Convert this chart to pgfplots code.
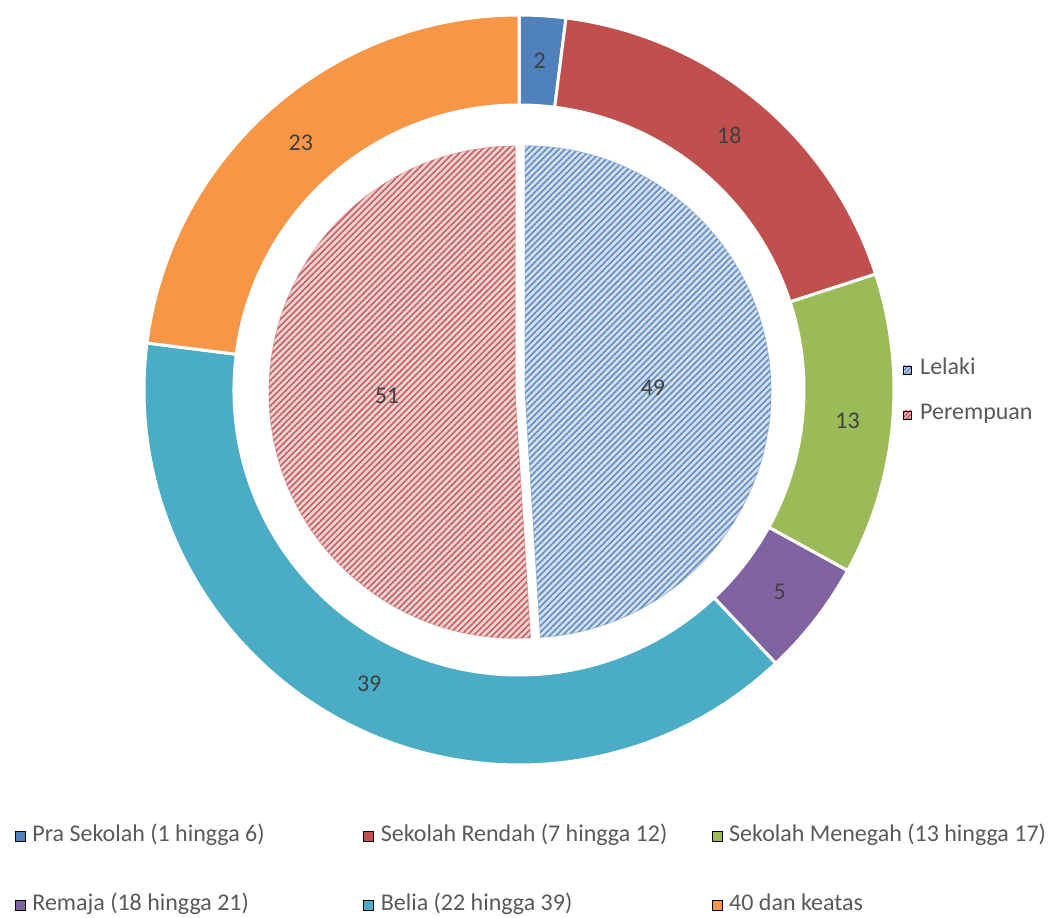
\documentclass[border=0pt]{standalone}
\usepackage{pgfplots}
\pgfplotsset{compat=1.18}
\usepackage{pgfplotstable}
\usetikzlibrary{patterns.meta}
\usepackage{fontspec}
\setmainfont{Carlito}
\definecolor{cA}{HTML}{4F81BD}
\definecolor{cB}{HTML}{C0504D}
\definecolor{cC}{HTML}{9BBB59}
\definecolor{cD}{HTML}{8064A2}
\definecolor{cE}{HTML}{4BACC6}
\definecolor{cF}{HTML}{F79646}
\definecolor{lbl}{HTML}{404040}
\definecolor{leg}{HTML}{595959}
\newcommand\lblfont{\fontsize{24}{28}\selectfont}

\pgfplotstableread{
value col
2 cA
18 cB
13 cC
5 cD
39 cE
23 cF
}\ringdata

\pgfplotstableread{
value col
49 cA
51 cB
}\piedata

\pgfplotsset{
  base/.style={
    x=1pt, y=1pt, xmin=0, xmax=1053, ymin=0, ymax=918,
    hide axis, clip=false, anchor=south west, at={(0,0)},
    legend cell align=left,
  },
}

\begin{document}
\begin{tikzpicture}
% ---------- outer ring + bottom legend ----------
\begin{axis}[base,
  legend columns=3,
  legend image code/.code={\fill[#1] (0pt,-5pt) rectangle (10pt,5pt);},
  legend style={at={(15/1053,92/918)}, anchor=north west, draw=none, fill=none,
    inner sep=0pt, outer sep=0pt, row sep=49pt,
    nodes={inner sep=0pt, text=leg, font=\lblfont, text height=15pt, text depth=5pt},
    /tikz/every odd column/.append style={column sep=7pt}},
]
\def\cx{519}\def\cy{528}\def\Ro{375}\def\Ri{285}
\def\acur{90}
\pgfplotsforeachungrouped \i in {0,...,5}{%
  \pgfplotstablegetelem{\i}{value}\of\ringdata \let\val\pgfplotsretval
  \pgfplotstablegetelem{\i}{col}\of\ringdata \let\col\pgfplotsretval
  \pgfmathsetmacro{\aend}{\acur-3.6*\val}
  \pgfmathsetmacro{\amid}{(\acur+\aend)/2}
  \pgfmathsetmacro{\xa}{\cx+\Ro*cos(\acur)}
  \pgfmathsetmacro{\ya}{\cy+\Ro*sin(\acur)}
  \pgfmathsetmacro{\xb}{\cx+\Ri*cos(\aend)}
  \pgfmathsetmacro{\yb}{\cy+\Ri*sin(\aend)}
  \pgfmathsetmacro{\xl}{\cx+330*cos(\amid)}
  \pgfmathsetmacro{\yl}{\cy+330*sin(\amid)}
  \edef\cmd{\noexpand\fill[fill=\col,draw=white,line width=3pt,line join=miter]
    (axis cs:\xa,\ya) arc[start angle=\acur,end angle=\aend,radius=\Ro pt]
    -- (axis cs:\xb,\yb) arc[start angle=\aend,end angle=\acur,radius=\Ri pt] -- cycle;
    \noexpand\node[text=lbl,font=\noexpand\lblfont] at (axis cs:\xl,\yl) {\val};}%
  \cmd
  \let\acur\aend
}
\addlegendimage{fill=cA}\addlegendentry{\makebox[331pt][l]{Pra Sekolah (1 hingga 6)}}
\addlegendimage{fill=cB}\addlegendentry{\makebox[331pt][l]{Sekolah Rendah (7 hingga 12)}}
\addlegendimage{fill=cC}\addlegendentry{Sekolah Menegah (13 hingga 17)}
\addlegendimage{fill=cD}\addlegendentry{\makebox[331pt][l]{Remaja (18 hingga 21)}}
\addlegendimage{fill=cE}\addlegendentry{\makebox[331pt][l]{Belia (22 hingga 39)}}
\addlegendimage{fill=cF}\addlegendentry{40 dan keatas}
\end{axis}

% ---------- inner pie + right legend ----------
\begin{axis}[base,
  legend columns=1,
  legend image code/.code={\fill[#1] (0pt,-4pt) rectangle (8pt,4pt);},
  legend style={at={(903/1053,558/918)}, anchor=north west, draw=none, fill=none,
    inner sep=0pt, outer sep=0pt, row sep=25pt,
    nodes={inner sep=0pt, text=leg, font=\lblfont, text height=15pt, text depth=5pt},
    /tikz/every odd column/.append style={column sep=8pt}},
]
\def\cx{520}\def\cy{526}\def\R{246}\def\ex{5}
\def\acur{90}
\pgfplotsforeachungrouped \i in {0,1}{%
  \pgfplotstablegetelem{\i}{value}\of\piedata \let\val\pgfplotsretval
  \pgfplotstablegetelem{\i}{col}\of\piedata \let\col\pgfplotsretval
  \pgfmathsetmacro{\aend}{\acur-3.6*\val}
  \pgfmathsetmacro{\amid}{(\acur+\aend)/2}
  \pgfmathsetmacro{\px}{\cx+\ex*cos(\amid)}
  \pgfmathsetmacro{\py}{\cy+\ex*sin(\amid)}
  \pgfmathsetmacro{\xa}{\px+\R*cos(\acur)}
  \pgfmathsetmacro{\ya}{\py+\R*sin(\acur)}
  \pgfmathsetmacro{\xl}{\px+128*cos(\amid)}
  \pgfmathsetmacro{\yl}{\py+128*sin(\amid)}
  \edef\cmd{\noexpand\fill[fill=\col!25,draw=\col!45,line width=1pt,
      postaction={pattern={Lines[angle=45,distance=4.5pt,line width=1.6pt]},pattern color=\col!90}]
    (axis cs:\px,\py) -- (axis cs:\xa,\ya) arc[start angle=\acur,end angle=\aend,radius=\R pt] -- cycle;
    \noexpand\node[text=lbl,font=\noexpand\lblfont] at (axis cs:\xl,\yl) {\val};}%
  \cmd
  \let\acur\aend
}
\addlegendimage{fill=cA!40,postaction={pattern={Lines[angle=45,distance=3pt,line width=1.2pt]},pattern color=cA}}
\addlegendentry{Lelaki}
\addlegendimage{fill=cB!40,postaction={pattern={Lines[angle=45,distance=3pt,line width=1.2pt]},pattern color=cB}}
\addlegendentry{Perempuan}
\end{axis}
\pgfresetboundingbox
\useasboundingbox (0,0) rectangle (1053pt,918pt);
\end{tikzpicture}
\end{document}
